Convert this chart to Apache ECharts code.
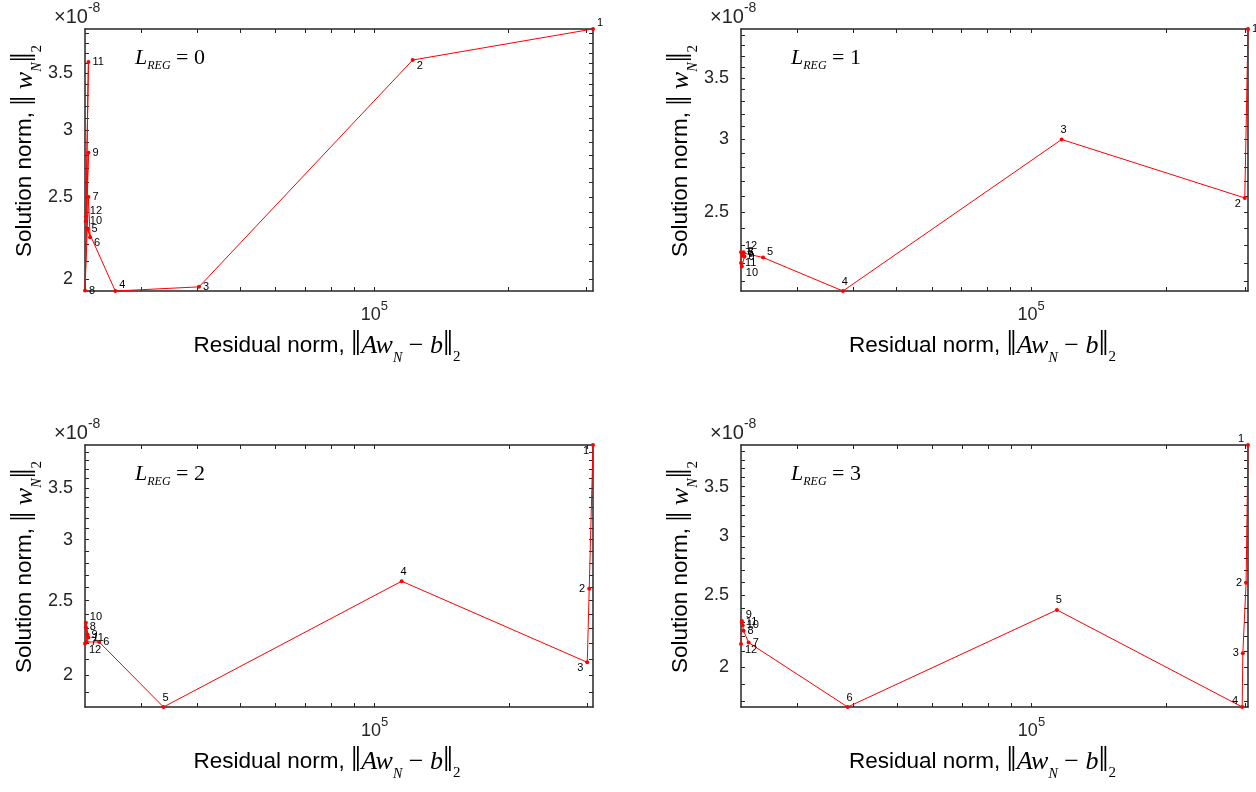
<!DOCTYPE html>
<html><head><meta charset="utf-8">
<script src="https://cdn.jsdelivr.net/npm/echarts@6/dist/echarts.min.js"></script>
<style>html,body{margin:0;padding:0;background:#fff}#c{width:1256px;height:792px}</style>
</head><body><div id="c"></div>
<script>
// ---- data ----
const pointIds = [1,2,3,4,5,6,7,8,9,10,11,12];
const lreg = [0, 1, 2, 3];
// residual norm ||A w_N - b||_2
const res0 = [3.10e5, 1.22e5, 4.04e4, 2.62e4, 2.27e4, 2.30e4, 2.28e4, 2.24e4, 2.28e4, 2.25e4, 2.28e4, 2.25e4];
const res1 = [3.05e5, 3.00e5, 1.17e5, 3.80e4, 2.52e4, 2.28e4, 2.27e4, 2.28e4, 2.29e4, 2.26e4, 2.25e4, 2.25e4];
const res2 = [3.09e5, 3.03e5, 3.00e5, 1.15e5, 3.36e4, 2.41e4, 2.26e4, 2.25e4, 2.27e4, 2.25e4, 2.28e4, 2.24e4];
const res3 = [3.05e5, 3.02e5, 2.97e5, 2.96e5, 1.14e5, 3.88e4, 2.33e4, 2.27e4, 2.25e4, 2.26e4, 2.25e4, 2.24e4];
// solution norm ||w_N||_2  (x 1e-8)
const sol0 = [3.95, 3.63, 1.957, 1.935, 2.29, 2.24, 2.50, 1.937, 2.82, 2.34, 3.61, 2.37];
const sol1 = [3.96, 2.59, 3.00, 2.05, 2.23, 2.255, 2.24, 2.26, 2.235, 2.18, 2.20, 2.26];
const sol2 = [3.98, 2.59, 2.08, 2.65, 1.82, 2.21, 2.21, 2.31, 2.26, 2.34, 2.24, 2.20];
const sol3 = [3.98, 2.60, 2.09, 1.77, 2.39, 1.77, 2.16, 2.24, 2.31, 2.28, 2.30, 2.15];
const solScale = 1e-8;
// tick values
const xTickValues = [3e4, 4e4, 5e4, 6e4, 7e4, 8e4, 9e4, 1e5, 2e5, 3e5];
const xTickLabels = [1e5];
const yTickValues = [1.7,1.8,1.9,2.0,2.1,2.2,2.3,2.4,2.5,2.6,2.7,2.8,2.9,3.0,3.1,3.2,3.3,3.4,3.5,3.6,3.7,3.8,3.9];
const yTickLabels = [2, 2.5, 3, 3.5];

// ---- styling / layout (not data) ----
const labelPlace = [
  ['tr','br','r','tr','r','br','r','r','r','r','r','tr'],
  ['r','bl','t','t','tr','r','r','r','r','br','r','tr'],
  ['bl','l','bl','t','t','r','r','r','r','tr','r','br'],
  ['tl','l','l','tl','t','t','r','r','tr','r','r','br']
];
const grids = [
  {left: 85, top: 29, width: 508, height: 262},
  {left: 741, top: 29, width: 507, height: 262},
  {left: 85, top: 445, width: 508, height: 262},
  {left: 741, top: 445, width: 507, height: 262}
];
const INK = '#262626';
const SANS = 'Liberation Sans';
const SERIF = 'Liberation Serif';

const resAll = [res0, res1, res2, res3];
const solAll = [sol0, sol1, sol2, sol3];

function labelCfg(code) {
  const m = {
    r: {position: 'right', offset: [0, 0]},
    tr: {position: 'right', offset: [0, -6]},
    br: {position: 'right', offset: [0, 6]},
    l: {position: 'left', offset: [0, 0]},
    tl: {position: 'left', offset: [0, -6]},
    bl: {position: 'left', offset: [0, 6]},
    t: {position: 'top', offset: [2, 0]}
  };
  return m[code];
}

const axisLineStyle = {show: true, lineStyle: {color: INK, width: 1.5}};
const tickStyle = {show: true, inside: true, length: 4, lineStyle: {color: INK, width: 1}};

const xName = '{t|Residual norm, }{m|\u2016}{i|Aw}{s|N}{o| \u2212 }{i|b}{m|\u2016}{d|2}';
const yName = '{t|Solution norm, }{m|\u2016}{i| w}{s|N}{m|\u2016}{d|2}';
const nameRich = {
  t: {fontFamily: SANS, fontSize: 22.5, color: '#000', lineHeight: 38, verticalAlign: 'middle'},
  m: {fontFamily: SERIF, fontSize: 36, color: '#000', lineHeight: 38, verticalAlign: 'middle'},
  i: {fontFamily: SERIF, fontStyle: 'italic', fontSize: 26, color: '#000', lineHeight: 38, verticalAlign: 'middle'},
  o: {fontFamily: SERIF, fontSize: 26, color: '#000', lineHeight: 38, verticalAlign: 'middle'},
  s: {fontFamily: SERIF, fontStyle: 'italic', fontSize: 14, color: '#000', lineHeight: 26, verticalAlign: 'bottom'},
  d: {fontFamily: SERIF, fontSize: 15, color: '#000', lineHeight: 14, verticalAlign: 'bottom'}
};

const option = {
  backgroundColor: '#fff',
  animation: false,
  grid: [], xAxis: [], yAxis: [], series: [], graphic: []
};

for (let p = 0; p < 4; p++) {
  const xs = resAll[p], ys = solAll[p].map(v => v * solScale);
  const xmin = Math.min(...xs), xmax = Math.max(...xs);
  const ymin = Math.min(...ys), ymax = Math.max(...ys);
  const g = grids[p];
  option.grid.push(Object.assign({show: false}, g));
  const yTicks = yTickValues.map(v => v * solScale);
  const yLabs = yTickLabels.map(v => v * solScale);
  option.xAxis.push({
    type: 'log', gridIndex: p, position: 'bottom', min: xmin, max: xmax,
    axisLine: axisLineStyle, splitLine: {show: false},
    axisTick: Object.assign({}, tickStyle, {customValues: xTickValues}),
    axisLabel: {customValues: xTickLabels, margin: 9, color: '#000',
      formatter: v => '{b|10}{e|' + Math.round(Math.log10(v)) + '}',
      rich: {b: {fontFamily: SANS, fontSize: 18, color: '#262626', lineHeight: 24, verticalAlign: 'bottom'},
             e: {fontFamily: SANS, fontSize: 13, color: '#262626', lineHeight: 24, verticalAlign: 'top'}}},
    name: xName, nameLocation: 'middle', nameGap: 36,
    nameTextStyle: {rich: nameRich, padding: [0, 24, 0, 0]}
  });
  option.xAxis.push({
    type: 'log', gridIndex: p, position: 'top', min: xmin, max: xmax,
    axisLine: axisLineStyle, splitLine: {show: false},
    axisTick: Object.assign({}, tickStyle, {customValues: xTickValues}),
    axisLabel: {show: false}
  });
  option.yAxis.push({
    type: 'log', gridIndex: p, position: 'left', min: ymin, max: ymax,
    axisLine: axisLineStyle, splitLine: {show: false},
    axisTick: Object.assign({}, tickStyle, {customValues: yTicks}),
    axisLabel: {customValues: yLabs, margin: 12, fontFamily: SANS, fontSize: 18, color: '#262626',
      formatter: v => String(parseFloat((v / solScale).toFixed(2)))},
    name: yName, nameLocation: 'middle', nameGap: 35, nameRotate: 90,
    nameTextStyle: {rich: nameRich, padding: [0, 0, 0, 18]}
  });
  option.yAxis.push({
    type: 'log', gridIndex: p, position: 'right', min: ymin, max: ymax,
    axisLine: axisLineStyle, splitLine: {show: false},
    axisTick: Object.assign({}, tickStyle, {customValues: yTicks}),
    axisLabel: {show: false}
  });
  option.series.push({
    type: 'line', xAxisIndex: p * 2, yAxisIndex: p * 2,
    data: xs.map((x, i) => {
      const lc = labelCfg(labelPlace[p][i]);
      return {value: [x, ys[i]], label: {position: lc.position, offset: lc.offset}};
    }),
    symbol: 'circle', symbolSize: 4,
    itemStyle: {color: '#ff0000'},
    lineStyle: {color: '#ff0000', width: 1},
    clip: false,
    label: {show: true, distance: 2, fontFamily: SANS, fontSize: 11, color: '#000',
      formatter: pr => String(pointIds[pr.dataIndex])},
    z: 3
  });
  option.graphic.push({
    type: 'text', left: g.left - 31, top: g.top - 28,
    style: {text: '{a|\u00d710}{b|-8}', rich: {
      a: {fontFamily: SANS, fontSize: 20, fill: '#262626', lineHeight: 26, verticalAlign: 'bottom'},
      b: {fontFamily: SANS, fontSize: 14, fill: '#262626', lineHeight: 26, verticalAlign: 'top'}}}
  });
  option.graphic.push({
    type: 'text', left: g.left + 50, top: g.top + 18,
    style: {text: '{l|L}{s|REG}{e| = ' + lreg[p] + '}', rich: {
      l: {fontFamily: SERIF, fontStyle: 'italic', fontSize: 22, fill: '#000', lineHeight: 28, verticalAlign: 'middle'},
      s: {fontFamily: SERIF, fontStyle: 'italic', fontSize: 12, fill: '#000', lineHeight: 14, verticalAlign: 'bottom'},
      e: {fontFamily: SERIF, fontSize: 22, fill: '#000', lineHeight: 28, verticalAlign: 'middle'}}}
  });
}

const chart = echarts.init(document.getElementById('c'), null, {renderer: 'canvas'});
chart.setOption(option);
</script>
</body></html>
